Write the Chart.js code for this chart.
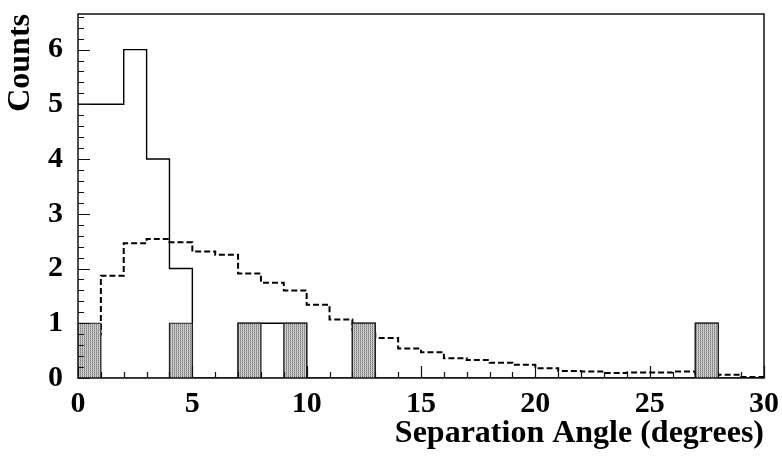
<!DOCTYPE html>
<html>
<head>
<meta charset="utf-8">
<script src="https://cdn.jsdelivr.net/npm/chart.js@4.4.1/dist/chart.umd.min.js"></script>
<style>
  html, body { margin: 0; padding: 0; background: #fff; }
  #wrap { width: 782px; height: 459px; }
</style>
</head>
<body>
<div id="wrap"><canvas id="myChart" width="782" height="459"></canvas></div>
<script>
// left edges of the 1-degree bins
let binEdges = [];
for (let i = 0; i < 30; i++) binEdges.push(i);

// all pairs
let allCounts = [5, 5, 6, 4, 2, 0, 0, 1, 1, 1, 0, 0, 1, 0, 0,
                 0, 0, 0, 0, 0, 0, 0, 0, 0, 0, 0, 0, 1, 0, 0];
// shaded subset
let taggedCounts = [1, 0, 0, 0, 1, 0, 0, 1, 0, 1, 0, 0, 1, 0, 0,
                    0, 0, 0, 0, 0, 0, 0, 0, 0, 0, 0, 0, 1, 0, 0];
// expectation (dashed)
let expected = [0.80, 1.87, 2.46, 2.54, 2.48, 2.31, 2.25, 1.91, 1.74, 1.60,
                1.34, 1.07, 0.88, 0.73, 0.54, 0.47, 0.36, 0.33, 0.28, 0.24,
                0.18, 0.13, 0.12, 0.09, 0.10, 0.10, 0.12, 0.05, 0.06, 0.02];

let xTicks = [0, 5, 10, 15, 20, 25, 30];
let yTicks = [0, 1, 2, 3, 4, 5, 6];

// bin contents -> step points at the left edges, closed at x=30
// (stepped 'before' keeps the previous value across to the next point)
function steps(vals) {
    let pts = binEdges.map((x, i) => ({x: x, y: vals[i]}));
    pts.push({x: 30, y: vals[vals.length - 1]});
    return pts;
}

// dotted grey fill for the shaded bars
function stipple() {
    let c = document.createElement('canvas');
    c.width = 2; c.height = 2;
    let g = c.getContext('2d');
    g.fillStyle = '#d6d6d6';
    g.fillRect(0, 0, 2, 2);
    g.fillStyle = '#7a7a7a';
    g.fillRect(0, 0, 1, 1);
    g.fillStyle = '#a8a8a8';
    g.fillRect(0, 1, 1, 1);
    g.fillStyle = '#c2c2c2';
    g.fillRect(1, 1, 1, 1);
    return g.createPattern(c, 'repeat');
}

const serif = "'Liberation Serif', 'Times New Roman', serif";

// frame plus inward ticks
const frameTicks = {
    id: 'frameTicks',
    afterDatasetsDraw(chart) {
        const ctx = chart.ctx;
        const a = chart.chartArea;
        const xs = chart.scales.x, ys = chart.scales.y;
        ctx.save();
        ctx.strokeStyle = '#111';
        ctx.lineWidth = 1.5;
        ctx.strokeRect(a.left, a.top, a.right - a.left, a.bottom - a.top);
        ctx.lineWidth = 1.2;
        ctx.beginPath();
        for (let v = 0; v <= 30; v++) {
            let px = Math.round(xs.getPixelForValue(v)) + 0.5;
            let len = v % 5 === 0 ? 12 : 6;
            ctx.moveTo(px, a.bottom);
            ctx.lineTo(px, a.bottom - len);
        }
        for (let k = 0; k <= 33; k++) {
            let v = k / 5;
            let py = Math.round(ys.getPixelForValue(v)) + 0.5;
            let len = k % 5 === 0 ? 12 : 6;
            ctx.moveTo(a.left, py);
            ctx.lineTo(a.left + len, py);
        }
        ctx.stroke();
        ctx.restore();
    }
};

let ctx = document.getElementById('myChart').getContext('2d');

let chart = new Chart(ctx, {
    type: 'line',
    data: {
        datasets: [
            {
                data: steps(taggedCounts),
                stepped: 'before',
                fill: 'origin',
                backgroundColor: stipple(),
                borderColor: '#222',
                borderWidth: 1.2,
                pointRadius: 0
            },
            {
                data: steps(allCounts),
                stepped: 'before',
                fill: false,
                borderColor: '#000',
                borderWidth: 1.4,
                pointRadius: 0
            },
            {
                data: steps(expected),
                stepped: 'before',
                fill: false,
                borderColor: '#000',
                borderWidth: 2,
                borderDash: [6, 3],
                pointRadius: 0
            }
        ]
    },
    options: {
        responsive: false,
        animation: false,
        layout: { padding: { top: 14, right: 18, left: 0, bottom: 0 } },
        plugins: {
            legend: { display: false },
            tooltip: { enabled: false }
        },
        scales: {
            x: {
                type: 'linear',
                min: 0,
                max: 30,
                grid: { display: false, drawTicks: false },
                border: { display: false },
                afterFit(scale) {
                    scale.height = 81;
                    scale.paddingLeft = 0;
                    scale.paddingRight = 0;
                },
                afterBuildTicks(scale) { scale.ticks = xTicks.map(v => ({value: v})); },
                ticks: {
                    color: '#000',
                    padding: 8,
                    maxRotation: 0,
                    font: { family: serif, weight: 'bold', size: 30 }
                },
                title: {
                    display: true,
                    text: 'Separation Angle (degrees)',
                    align: 'end',
                    color: '#000',
                    padding: { top: 0, bottom: 6 },
                    font: { family: serif, weight: 'bold', size: 32 }
                }
            },
            y: {
                min: 0,
                max: 6.65,
                grid: { display: false, drawTicks: false },
                border: { display: false },
                afterFit(scale) {
                    scale.width = 78;
                    scale.paddingTop = 0;
                    scale.paddingBottom = 0;
                },
                afterBuildTicks(scale) { scale.ticks = yTicks.map(v => ({value: v})); },
                ticks: {
                    color: '#000',
                    padding: 15,
                    font: { family: serif, weight: 'bold', size: 30 }
                },
                title: {
                    display: true,
                    text: 'Counts',
                    align: 'end',
                    color: '#000',
                    padding: { top: 2, bottom: 0 },
                    font: { family: serif, weight: 'bold', size: 32 }
                }
            }
        }
    },
    plugins: [frameTicks]
});
</script>
</body>
</html>
